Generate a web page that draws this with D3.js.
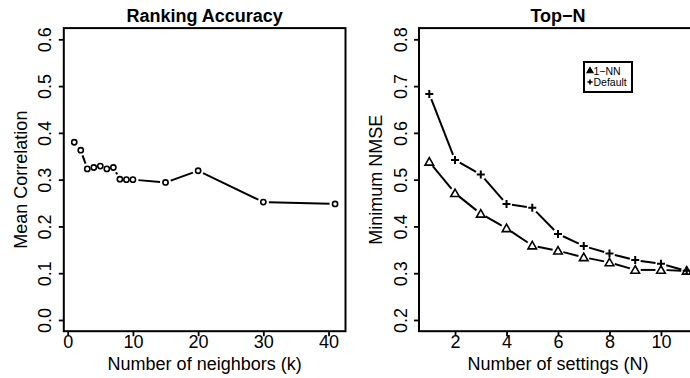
<!DOCTYPE html>
<html>
<head>
<meta charset="utf-8">
<script src="https://cdn.jsdelivr.net/npm/d3@7"></script>
<style>
	body { margin: 0; background: #fff; }
	svg { display: block; }
	text { font-family: "Liberation Sans", Arial, Helvetica, sans-serif; fill: #000; }
</style>
</head>
<body>
<svg id="chart"></svg>
<script>

	// data
	const kValues = [1, 2, 3, 4, 5, 6, 7, 8, 9, 10, 15, 20, 30, 41]
	const meanCorr = [0.380, 0.363, 0.323, 0.326, 0.329, 0.323, 0.326, 0.301, 0.300, 0.300, 0.294, 0.319, 0.252, 0.248]

	const nSettings = [1, 2, 3, 4, 5, 6, 7, 8, 9, 10, 11]
	const nmse1NN = [0.538, 0.471, 0.427, 0.396, 0.359, 0.348, 0.334, 0.323, 0.307, 0.307, 0.305]
	const nmseDefault = [0.683, 0.542, 0.511, 0.448, 0.440, 0.384, 0.358, 0.342, 0.328, 0.320, 0.305]

	const leftYTicks = [0.0, 0.1, 0.2, 0.3, 0.4, 0.5, 0.6]
	const leftXTicks = [0, 10, 20, 30, 40]
	const rightYTicks = [0.2, 0.3, 0.4, 0.5, 0.6, 0.7, 0.8]
	const rightXTicks = [2, 4, 6, 8, 10]
	const legendLabels = ["1\u2212NN", "Default"]

	// sizes
	let width = 690
	let height = 378
	let plotTop = 28.1, plotBottom = 331.2
	let gap = 5.5       // R type="b" gap round each point
	let tickLen = 5
	let fontSize = 18

	let svg = d3.select("#chart")
		.attr("width", width)
		.attr("height", height)

	// helper: one R-ish panel (box, axes, titles)
	function panel(opts) {
		let g = svg.append("g")
		let x = d3.scaleLinear().domain(opts.xDomain).range([opts.x0, opts.x1])
		let y = d3.scaleLinear().domain(opts.yDomain).range([plotBottom, plotTop])

		let xAxis = g.append("g")
			.attr("transform", "translate(0," + plotBottom + ")")
			.call(d3.axisBottom(x).tickValues(opts.xTicks).tickSize(tickLen).tickFormat(d3.format("d")))
		xAxis.select(".domain").remove()
		xAxis.selectAll("line").attr("stroke", "#000").attr("stroke-width", 1.8)
		xAxis.selectAll("text")
			.attr("font-size", fontSize)
			.attr("font-family", null)
			.attr("y", 17).attr("dy", 0)

		let yAxis = g.append("g")
			.attr("transform", "translate(" + opts.x0 + ",0)")
			.call(d3.axisLeft(y).tickValues(opts.yTicks).tickSize(tickLen).tickFormat(d3.format(".1f")))
		yAxis.select(".domain").remove()
		yAxis.selectAll("line").attr("stroke", "#000").attr("stroke-width", 1.8)
		yAxis.selectAll("text")
			.attr("font-size", fontSize)
			.attr("font-family", null)
			.attr("transform", "rotate(-90)")
			.attr("text-anchor", "middle")
			.attr("x", 0).attr("y", -12.5).attr("dy", 0)

		// box
		g.append("rect")
			.attr("x", opts.x0).attr("y", plotTop)
			.attr("width", opts.x1 - opts.x0).attr("height", plotBottom - plotTop)
			.attr("fill", "none").attr("stroke", "#000").attr("stroke-width", 2)

		let cx = (opts.x0 + opts.x1) / 2
		g.append("text")
			.attr("x", cx).attr("y", 21.5)
			.attr("text-anchor", "middle")
			.attr("font-size", fontSize).attr("font-weight", "bold")
			.text(opts.title)
		g.append("text")
			.attr("x", cx).attr("y", 370)
			.attr("text-anchor", "middle")
			.attr("font-size", fontSize)
			.text(opts.xLabel)
		g.append("text")
			.attr("transform", "translate(" + (opts.x0 - 37) + "," + ((plotTop + plotBottom) / 2) + ") rotate(-90)")
			.attr("text-anchor", "middle")
			.attr("font-size", fontSize)
			.text(opts.yLabel)

		return { g: g, x: x, y: y }
	}

	// lines with gaps at the points, like plot(type="b")
	function gappedLine(g, xs, ys, x, y) {
		let pts = xs.map(function(d, i){ return [x(d), y(ys[i])] })
		for (let i = 0; i < pts.length - 1; i++) {
			let a = pts[i], b = pts[i + 1]
			let dx = b[0] - a[0], dy = b[1] - a[1]
			let len = Math.sqrt(dx * dx + dy * dy)
			if (len <= 2 * gap) continue
			let ux = dx / len, uy = dy / len
			g.append("line")
				.attr("x1", a[0] + ux * gap).attr("y1", a[1] + uy * gap)
				.attr("x2", b[0] - ux * gap).attr("y2", b[1] - uy * gap)
				.attr("stroke", "#000").attr("stroke-width", 2)
		}
	}

	let triangle = d3.symbol().type(d3.symbolTriangle).size(32)
	let plus = "M-4,0H4M0,-4V4"

	// left panel
	let left = panel({
		x0: 63.8, x1: 345.5,
		xDomain: [-0.6, 42.6], yDomain: [-0.024, 0.624],
		xTicks: leftXTicks, yTicks: leftYTicks,
		title: "Ranking Accuracy",
		xLabel: "Number of neighbors (k)",
		yLabel: "Mean Correlation"
	})
	gappedLine(left.g, kValues, meanCorr, left.x, left.y)
	left.g.selectAll("circle.pt")
		.data(kValues)
		.enter().append("circle")
		.classed("pt", true)
		.attr("cx", function(d){ return left.x(d) })
		.attr("cy", function(d, i){ return left.y(meanCorr[i]) })
		.attr("r", 2.6)
		.attr("fill", "none").attr("stroke", "#000").attr("stroke-width", 1.6)

	// right panel
	let right = panel({
		x0: 419, x1: 697,
		xDomain: [0.6, 11.4], yDomain: [0.176, 0.824],
		xTicks: rightXTicks, yTicks: rightYTicks,
		title: "Top\u2212N",
		xLabel: "Number of settings (N)",
		yLabel: "Minimum NMSE"
	})
	gappedLine(right.g, nSettings, nmse1NN, right.x, right.y)
	gappedLine(right.g, nSettings, nmseDefault, right.x, right.y)

	right.g.selectAll("path.tri")
		.data(nSettings)
		.enter().append("path")
		.classed("tri", true)
		.attr("d", triangle)
		.attr("transform", function(d, i){ return "translate(" + right.x(d) + "," + (right.y(nmse1NN[i]) + 0.8) + ")" })
		.attr("fill", "none").attr("stroke", "#000").attr("stroke-width", 1.6)

	right.g.selectAll("path.plus")
		.data(nSettings)
		.enter().append("path")
		.classed("plus", true)
		.attr("d", plus)
		.attr("transform", function(d, i){ return "translate(" + right.x(d) + "," + right.y(nmseDefault[i]) + ")" })
		.attr("fill", "none").attr("stroke", "#000").attr("stroke-width", 2)

	// legend
	let legend = right.g.append("g").attr("transform", "translate(584,62)")
	legend.append("rect")
		.attr("width", 48).attr("height", 30)
		.attr("fill", "#fff").attr("stroke", "#000").attr("stroke-width", 2)
	let legendRows = legend.selectAll("g.row")
		.data(legendLabels)
		.enter().append("g")
		.classed("row", true)
		.attr("transform", function(d, i){ return "translate(6," + (9 + i * 11) + ")" })
	legendRows.append("path")
		.attr("d", function(d, i){ return i == 0 ? d3.symbol().type(d3.symbolTriangle).size(16)() : "M-2.6,0H2.6M0,-2.6V2.6" })
		.attr("fill", function(d, i){ return i == 0 ? "#000" : "none" })
		.attr("stroke", "#000").attr("stroke-width", function(d, i){ return i == 0 ? 1.2 : 1.6 })
	legendRows.append("text")
		.attr("x", 3.5).attr("y", 4)
		.attr("font-size", 10.5)
		.text(function(d){ return d })

</script>
</body>
</html>
